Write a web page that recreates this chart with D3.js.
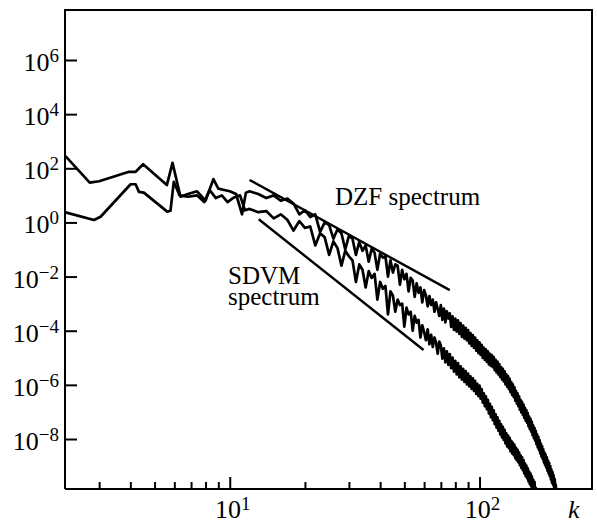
<!DOCTYPE html>
<html>
<head>
<meta charset="utf-8">
<script src="https://cdn.jsdelivr.net/npm/d3@7"></script>
<style>
  body { margin: 0; background: #fff; }
</style>
</head>
<body>
<div id="app"></div>
<script>
`use strict`;

// log10 of the spectra; low-k part has its own k values, the rest runs k = 12, 13, ...
const dzfLowK = [2.2, 2.75, 3.0, 3.95, 4.2, 4.5, 5.6, 5.9, 6.35, 6.8, 7.4, 8.0, 8.6, 9.0, 9.5, 10.0, 10.6, 11.2, 11.6];
const dzfLowV = [2.45, 1.47, 1.52, 1.87, 1.87, 2.15, 1.38, 2.2, 0.95, 1.05, 1.15, 0.8, 1.6, 1.25, 1.2, 1.15, 1.05, 0.3, 1.1];
const dzfStartK = 12;
const dzfV = [
  1.15, 1.05, 0.90, 1.00, 0.80, 0.88, 0.70, 0.30, 0.45, 0.20,
  0.30, -0.35, 0.00, -0.10, -0.60, -0.25, -0.40, -1.00, -0.50, -0.60,
  -1.20, -0.72, -1.05, -0.85, -1.45, -0.97, -1.12, -1.75, -1.15, -1.30,
  -1.25, -2.00, -1.40, -1.85, -1.55, -1.60, -2.30, -1.75, -2.10, -1.90,
  -2.55, -2.05, -2.15, -2.75, -2.25, -2.60, -2.40, -2.95, -2.50, -2.70,
  -3.10, -2.72, -3.05, -2.85, -3.30, -2.95, -3.20, -3.45, -3.05, -3.60,
  -3.18, -3.69, -3.28, -3.55, -3.36, -3.86, -3.47, -3.97, -3.55, -4.03,
  -3.62, -4.12, -3.72, -4.23, -3.81, -4.29, -3.89, -4.36, -3.98, -4.47,
  -4.09, -4.56, -4.16, -4.63, -4.25, -4.74, -4.36, -4.83, -4.43, -4.89,
  -4.52, -5.00, -4.62, -5.08, -4.69, -5.15, -4.76, -5.24, -4.85, -5.30,
  -4.90, -5.35, -4.97, -5.46, -5.08, -5.54, -5.14, -5.61, -5.23, -5.71,
  -5.34, -5.80, -5.41, -5.87, -5.50, -5.98, -5.61, -6.07, -5.68, -6.15,
  -5.78, -6.27, -5.90, -6.37, -5.98, -6.45, -6.09, -6.58, -6.22, -6.69,
  -6.31, -6.79, -6.42, -6.92, -6.55, -7.02, -6.63, -7.10, -6.73, -7.22,
  -6.85, -7.32, -6.93, -7.40, -7.04, -7.53, -7.17, -7.64, -7.26, -7.73,
  -7.37, -7.86, -7.50, -7.97, -7.59, -8.06, -7.70, -8.19, -7.83, -8.31,
  -7.92, -8.40, -8.04, -8.53, -8.17, -8.65, -8.26, -8.74, -8.38, -8.87,
  -8.50, -8.97, -8.58, -9.05, -8.68, -9.17, -8.80, -9.27, -8.88, -9.36,
  -9.00, -9.49, -9.13, -9.61, -9.22, -9.70, -9.34, -9.84, -9.48, -9.97,
  -9.70, -10.1
];

const sdvmLowK = [2.2, 2.86, 3.04, 4.01, 4.2, 4.33, 4.53, 5.62, 5.79, 5.97, 6.3, 6.8, 7.4, 7.9, 8.3, 8.8, 9.3, 9.8, 10.3, 11.0, 11.5];
const sdvmLowV = [0.37, 0.09, 0.21, 1.41, 1.41, 1.13, 1.10, 0.40, 0.43, 1.50, 1.0, 0.95, 1.0, 0.75, 1.2, 0.9, 1.0, 0.75, 0.9, 1.0, 0.45];
const sdvmStartK = 12;
const sdvmV = [
  0.50, 0.38, 0.42, 0.15, 0.30, 0.10, -0.30, 0.05, -0.20, -0.15,
  -0.85, -0.40, -0.55, -1.20, -0.70, -0.95, -1.60, -1.05, -1.25, -1.40,
  -2.20, -1.55, -1.75, -2.40, -1.80, -2.05, -1.90, -2.85, -2.20, -2.45,
  -2.35, -3.40, -2.55, -2.70, -3.30, -2.85, -3.05, -3.00, -3.85, -3.15,
  -3.40, -3.30, -4.00, -3.45, -3.70, -3.60, -4.25, -3.80, -4.05, -4.35,
  -3.95, -4.50, -4.15, -4.60, -4.25, -4.45, -4.85, -4.40, -4.55, -5.03,
  -4.65, -5.17, -4.76, -5.26, -4.86, -5.38, -4.99, -5.51, -5.11, -5.61,
  -5.20, -5.72, -5.32, -5.81, -5.41, -5.89, -5.49, -5.98, -5.58, -6.06,
  -5.69, -6.15, -5.76, -6.22, -5.85, -6.33, -5.96, -6.42, -6.03, -6.51,
  -6.16, -6.66, -6.31, -6.79, -6.42, -6.90, -6.55, -7.05, -6.70, -7.19,
  -6.81, -7.30, -6.94, -7.45, -7.09, -7.58, -7.20, -7.69, -7.33, -7.83,
  -7.46, -7.94, -7.55, -8.03, -7.66, -8.16, -7.79, -8.27, -7.87, -8.34,
  -7.96, -8.45, -8.07, -8.53, -8.14, -8.60, -8.22, -8.71, -8.33, -8.79,
  -8.40, -8.86, -8.49, -8.97, -8.60, -9.07, -8.68, -9.15, -8.78, -9.27,
  -8.90, -9.37, -8.98, -9.45, -9.08, -9.57, -9.20, -9.67, -9.28, -9.75,
  -9.38, -9.87, -9.50, -9.97, -9.58, -10.07, -9.80, -10.2
];

// straight reference slopes, [k, log10 value] end points
const dzfFit = [[12.0, 1.57], [76, -2.5]];
const sdvmFit = [[13.06, 0.115], [59.7, -4.71]];

const yTickExp = [-8, -6, -4, -2, 0, 2, 4, 6];
const xMajor = [10, 100];
const xMinor = [3, 4, 5, 6, 7, 8, 9, 20, 30, 40, 50, 60, 70, 80, 90, 200];

const W = 597, H = 524;
const L = 65, R = 592, T = 10, B = 489;
const FONT = `"Liberation Serif", "Times New Roman", "DejaVu Serif", serif`;

const x = d3.scaleLog().domain([2.19, 282]).range([L, R]);
const y = d3.scaleLog().domain([Math.pow(10, -9.847), Math.pow(10, 7.847)]).range([B, T]);

const svg = d3.select(`#app`).append(`svg`).attr(`width`, W).attr(`height`, H)
  .attr(`font-family`, FONT);

svg.append(`clipPath`).attr(`id`, `plot`).append(`rect`)
  .attr(`x`, L).attr(`y`, T).attr(`width`, R - L).attr(`height`, B - T);

let pts = (lowK, lowV, k0, vals) => {
  let out = lowK.map((k, i) => [k, lowV[i]]);
  vals.forEach((v, i) => out.push([k0 + i, v]));
  return out;
};

let line = d3.line().x(d => x(d[0])).y(d => y(Math.pow(10, d[1])));

let curves = svg.append(`g`).attr(`clip-path`, `url(#plot)`)
  .attr(`fill`, `none`).attr(`stroke`, `#000`).attr(`stroke-linejoin`, `round`);

curves.append(`path`).attr(`d`, line(pts(sdvmLowK, sdvmLowV, sdvmStartK, sdvmV))).attr(`stroke-width`, 2.7);
curves.append(`path`).attr(`d`, line(pts(dzfLowK, dzfLowV, dzfStartK, dzfV))).attr(`stroke-width`, 2.7);
curves.append(`path`).attr(`d`, line(dzfFit)).attr(`stroke-width`, 2.4);
curves.append(`path`).attr(`d`, line(sdvmFit)).attr(`stroke-width`, 2.4);

// frame
svg.append(`path`).attr(`d`, `M${L},${B}V${T}H${R}V${B}H${L}`)
  .attr(`fill`, `none`).attr(`stroke`, `#000`).attr(`stroke-width`, 2);

// x axis: major and minor ticks point inward
let xAxis = svg.append(`g`).attr(`transform`, `translate(0,${B})`);

xAxis.append(`g`).call(d3.axisBottom(x).tickValues(xMinor).tickSize(-7).tickFormat(``))
  .call(g => g.select(`.domain`).remove())
  .selectAll(`line`).attr(`stroke-width`, 2);

xAxis.append(`g`).call(d3.axisBottom(x).tickValues(xMajor).tickSize(-12).tickFormat(``))
  .call(g => g.select(`.domain`).remove())
  .selectAll(`line`).attr(`stroke-width`, 2);

xMajor.forEach(k => {
  let t = xAxis.append(`text`).attr(`x`, x(k) + 3).attr(`y`, 29).attr(`text-anchor`, `middle`).attr(`font-size`, 26);
  t.append(`tspan`).text(`10`);
  t.append(`tspan`).attr(`dy`, -8).attr(`font-size`, 19).text(Math.round(Math.log10(k)));
});

svg.append(`text`).attr(`x`, 568).attr(`y`, 518).attr(`font-size`, 26).attr(`font-style`, `italic`).text(`k`);

// y axis
let yAxis = svg.append(`g`).attr(`transform`, `translate(${L},0)`);

yAxis.append(`g`).call(d3.axisLeft(y).tickValues(yTickExp.map(e => Math.pow(10, e))).tickSize(-12).tickFormat(``))
  .call(g => g.select(`.domain`).remove())
  .selectAll(`line`).attr(`stroke-width`, 2);

yTickExp.forEach(e => {
  let t = yAxis.append(`text`).attr(`x`, -6).attr(`y`, y(Math.pow(10, e)) + 11).attr(`text-anchor`, `end`).attr(`font-size`, 26);
  t.append(`tspan`).text(`10`);
  t.append(`tspan`).attr(`dy`, -9).attr(`font-size`, 19).text(e < 0 ? `\u2212${-e}` : `${e}`);
});

// annotations
svg.append(`text`).attr(`x`, 335).attr(`y`, 205).attr(`font-size`, 25).text(`DZF spectrum`);
svg.append(`text`).attr(`x`, 228).attr(`y`, 284).attr(`font-size`, 25).text(`SDVM`);
svg.append(`text`).attr(`x`, 228).attr(`y`, 305).attr(`font-size`, 25).text(`spectrum`);
</script>
</body>
</html>
